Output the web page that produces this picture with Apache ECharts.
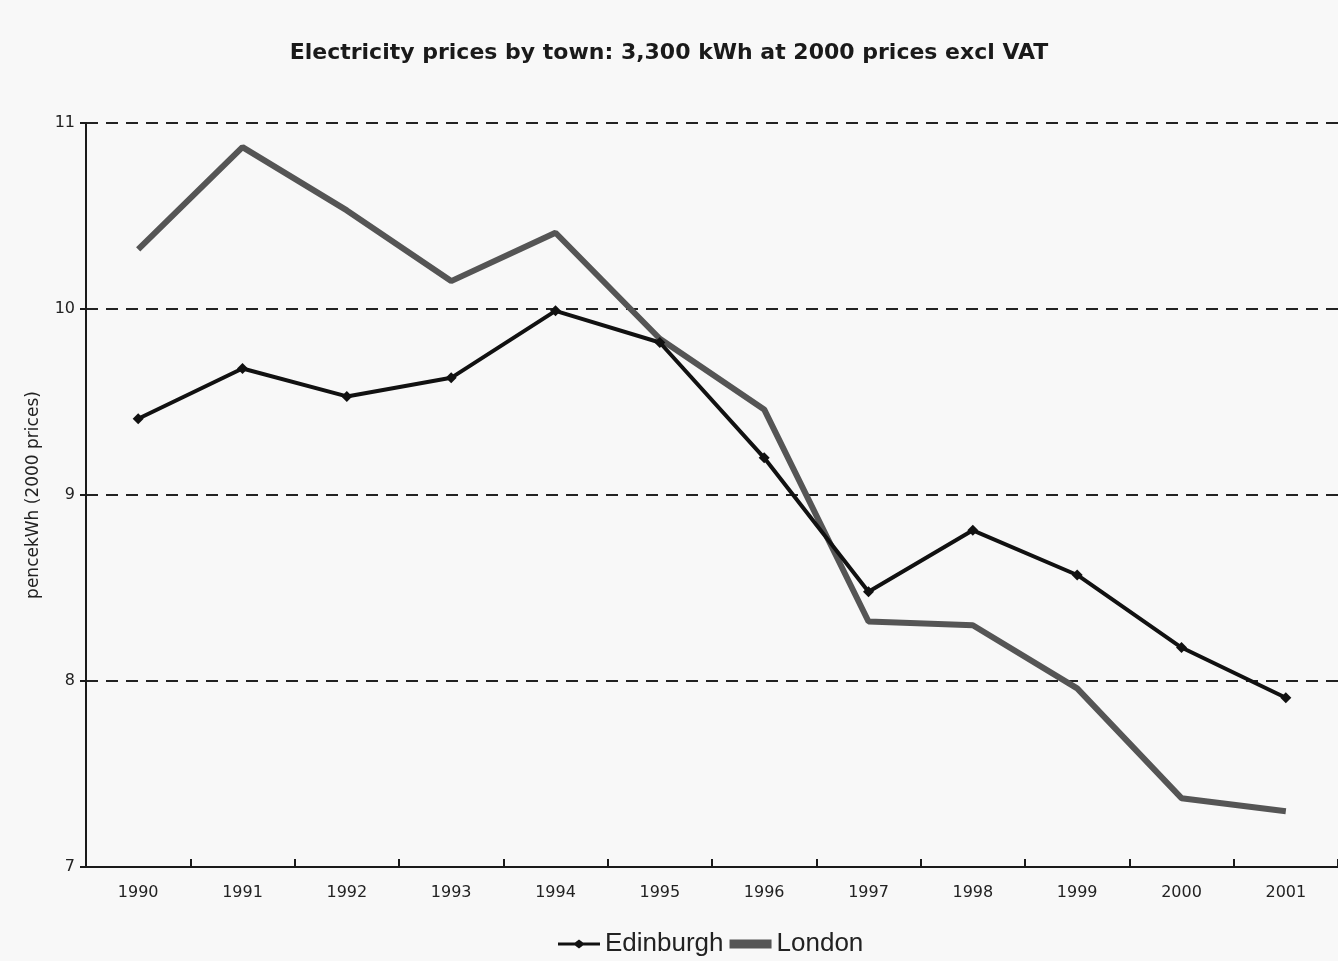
<!DOCTYPE html>
<html>
<head>
<meta charset="utf-8">
<script src="https://cdn.jsdelivr.net/npm/echarts@6/dist/echarts.min.js"></script>
<style>
  html, body { margin: 0; padding: 0; background: #f8f8f8; }
  #chart { width: 1338px; height: 961px; }
</style>
</head>
<body>
<div id="chart"></div>
<script>
// 数据
var years = ["1990", "1991", "1992", "1993", "1994", "1995", "1996", "1997", "1998", "1999", "2000", "2001"];
var edinburgh = [9.41, 9.68, 9.53, 9.63, 9.99, 9.82, 9.20, 8.48, 8.81, 8.57, 8.18, 7.91];
var london = [10.32, 10.87, 10.53, 10.15, 10.41, 9.84, 9.46, 8.32, 8.30, 7.96, 7.37, 7.30];
var yTicks = [7, 8, 9, 10, 11];

(function () {
    var myChart = echarts.init(document.getElementById("chart"));
    var option = {
        backgroundColor: "#f8f8f8",
        animation: false,
        textStyle: { fontFamily: "DejaVu Sans, sans-serif" },
        title: {
            text: "Electricity prices by town: 3,300 kWh at 2000 prices excl VAT",
            left: "center",
            top: 37,
            textStyle: { fontSize: 22, fontWeight: "bold", color: "#1a1a1a", fontFamily: "DejaVu Sans" }
        },
        // 图例
        legend: {
            left: 553,
            top: 926,
            itemWidth: 42,
            itemHeight: 9,
            itemGap: 6,
            textStyle: { fontSize: 26, color: "#222", fontFamily: "Liberation Sans" },
            data: [
                { name: "Edinburgh", icon: "path://M0,3H17L21,0L25,3H42V6H25L21,9L17,6H0Z" },
                { name: "London", icon: "rect" }
            ]
        },
        grid: { left: 86, right: 0, top: 123, bottom: 94 },
        xAxis: {
            type: "category",
            data: years,
            boundaryGap: true,
            axisLine: { lineStyle: { color: "#1a1a1a", width: 2 } },
            axisTick: { show: true, inside: true, length: 8, lineStyle: { color: "#1a1a1a", width: 2 } },
            axisLabel: { color: "#222", fontSize: 16, margin: 18 }
        },
        yAxis: {
            type: "value",
            min: yTicks[0],
            max: yTicks[yTicks.length - 1],
            interval: 1,
            name: "pencekWh (2000 prices)",
            nameLocation: "middle",
            nameGap: 44,
            nameTextStyle: { fontSize: 17, color: "#222" },
            axisLine: { show: true, lineStyle: { color: "#1a1a1a", width: 2 } },
            axisTick: { show: true, length: 6, lineStyle: { color: "#1a1a1a", width: 2 } },
            axisLabel: { color: "#222", fontSize: 16, margin: 11 },
            splitLine: { show: true, lineStyle: { color: "#222", width: 2, type: [12, 8] } }
        },
        series: [
            {
                name: "Edinburgh",
                type: "line",
                data: edinburgh,
                symbol: "diamond",
                symbolSize: 11,
                itemStyle: { color: "#111" },
                lineStyle: { color: "#111", width: 4 },
                z: 3
            },
            {
                name: "London",
                type: "line",
                data: london,
                symbol: "none",
                itemStyle: { color: "#555" },
                lineStyle: { color: "#555", width: 6 },
                z: 2
            }
        ]
    };
    myChart.setOption(option);
})();
</script>
</body>
</html>
